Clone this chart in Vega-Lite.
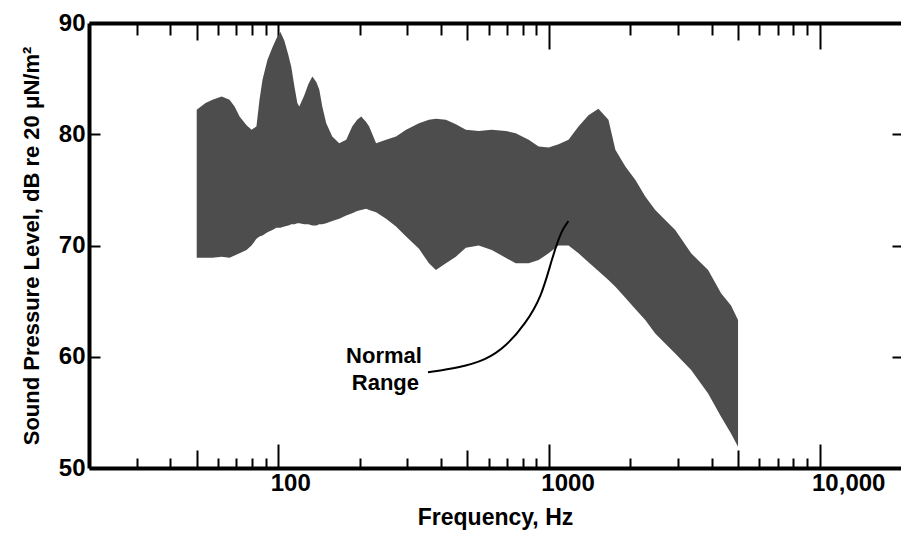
{
  "$schema": "https://vega.github.io/schema/vega-lite/v6.json",
  "width": 812,
  "height": 445,
  "autosize": {"type": "none"},
  "padding": {"left": 89, "top": 23, "right": 0, "bottom": 70},
  "background": "white",
  "config": {
    "view": {"stroke": null},
    "font": "Liberation Sans",
    "axis": {"grid": false, "labelColor": "black", "titleColor": "black", "domainColor": "black", "tickColor": "black"}
  },
  "datasets": {
    "band": [
      {"freq": 50, "upper": 82.2, "lower": 68.9},
      {"freq": 53.9, "upper": 82.8, "lower": 68.9},
      {"freq": 57.2, "upper": 83.1, "lower": 68.9},
      {"freq": 61.8, "upper": 83.4, "lower": 69.0},
      {"freq": 66.1, "upper": 83.1, "lower": 68.9},
      {"freq": 69.0, "upper": 82.5, "lower": 69.1},
      {"freq": 72.0, "upper": 81.6, "lower": 69.3},
      {"freq": 76.4, "upper": 80.8, "lower": 69.6},
      {"freq": 79.7, "upper": 80.4, "lower": 70.0},
      {"freq": 83.1, "upper": 80.7, "lower": 70.6},
      {"freq": 85.3, "upper": 83.1, "lower": 70.8},
      {"freq": 87.5, "upper": 84.9, "lower": 70.9},
      {"freq": 91.3, "upper": 86.7, "lower": 71.2},
      {"freq": 95.2, "upper": 87.8, "lower": 71.4},
      {"freq": 98.5, "upper": 88.6, "lower": 71.6},
      {"freq": 101.9, "upper": 89.2, "lower": 71.6},
      {"freq": 105.4, "upper": 88.4, "lower": 71.7},
      {"freq": 109.1, "upper": 87.1, "lower": 71.8},
      {"freq": 111.9, "upper": 86.0, "lower": 71.9},
      {"freq": 114.8, "upper": 84.3, "lower": 71.9},
      {"freq": 117.7, "upper": 82.8, "lower": 72.0},
      {"freq": 119.7, "upper": 82.5, "lower": 72.0},
      {"freq": 124.9, "upper": 83.5, "lower": 71.9},
      {"freq": 129.2, "upper": 84.5, "lower": 71.9},
      {"freq": 133.7, "upper": 85.2, "lower": 71.8},
      {"freq": 138.3, "upper": 84.7, "lower": 71.8},
      {"freq": 141.9, "upper": 84.0, "lower": 71.9},
      {"freq": 145.5, "upper": 82.5, "lower": 71.9},
      {"freq": 150.5, "upper": 81.0, "lower": 72.0},
      {"freq": 158.4, "upper": 79.8, "lower": 72.2},
      {"freq": 168.1, "upper": 79.2, "lower": 72.4},
      {"freq": 178.4, "upper": 79.5, "lower": 72.7},
      {"freq": 187.7, "upper": 80.7, "lower": 72.9},
      {"freq": 195.8, "upper": 81.3, "lower": 73.1},
      {"freq": 202.6, "upper": 81.6, "lower": 73.2},
      {"freq": 211.3, "upper": 81.1, "lower": 73.3},
      {"freq": 216.8, "upper": 80.7, "lower": 73.2},
      {"freq": 230.0, "upper": 79.2, "lower": 73.0},
      {"freq": 250.4, "upper": 79.5, "lower": 72.4},
      {"freq": 272.5, "upper": 79.8, "lower": 71.7},
      {"freq": 296.8, "upper": 80.4, "lower": 70.8},
      {"freq": 331.3, "upper": 81.0, "lower": 69.7},
      {"freq": 360.6, "upper": 81.3, "lower": 68.4},
      {"freq": 382.6, "upper": 81.4, "lower": 67.8},
      {"freq": 416.5, "upper": 81.3, "lower": 68.4},
      {"freq": 453.4, "upper": 80.9, "lower": 69.0},
      {"freq": 493.6, "upper": 80.4, "lower": 69.8},
      {"freq": 551.0, "upper": 80.3, "lower": 70.0},
      {"freq": 615.2, "upper": 80.4, "lower": 69.6},
      {"freq": 692.7, "upper": 80.3, "lower": 68.9},
      {"freq": 754.2, "upper": 80.1, "lower": 68.4},
      {"freq": 842.2, "upper": 79.5, "lower": 68.4},
      {"freq": 916.8, "upper": 78.9, "lower": 68.7},
      {"freq": 997.8, "upper": 78.8, "lower": 69.3},
      {"freq": 1086, "upper": 79.1, "lower": 70.0},
      {"freq": 1182, "upper": 79.5, "lower": 70.0},
      {"freq": 1287, "upper": 80.7, "lower": 69.3},
      {"freq": 1401, "upper": 81.7, "lower": 68.5},
      {"freq": 1524, "upper": 82.3, "lower": 67.7},
      {"freq": 1660, "upper": 81.3, "lower": 66.9},
      {"freq": 1761, "upper": 78.6, "lower": 66.3},
      {"freq": 1917, "upper": 77.1, "lower": 65.3},
      {"freq": 2086, "upper": 75.9, "lower": 64.3},
      {"freq": 2271, "upper": 74.4, "lower": 63.3},
      {"freq": 2472, "upper": 73.2, "lower": 62.1},
      {"freq": 2691, "upper": 72.3, "lower": 61.2},
      {"freq": 2930, "upper": 71.4, "lower": 60.3},
      {"freq": 3355, "upper": 69.3, "lower": 58.8},
      {"freq": 3876, "upper": 67.8, "lower": 56.7},
      {"freq": 4328, "upper": 65.7, "lower": 54.6},
      {"freq": 4710, "upper": 64.6, "lower": 53.1},
      {"freq": 5000, "upper": 63.3, "lower": 51.9}
    ],
    "pointer": [
      {"freq": 357.6, "level": 58.6},
      {"freq": 465, "level": 59.0},
      {"freq": 585, "level": 59.7},
      {"freq": 693, "level": 60.9},
      {"freq": 821, "level": 63.0},
      {"freq": 940, "level": 65.4},
      {"freq": 1023, "level": 68.7},
      {"freq": 1114, "level": 71.4},
      {"freq": 1182, "level": 72.2}
    ],
    "notes": [
      {"freq": 246, "level": 60.1, "text": "Normal"},
      {"freq": 249, "level": 57.6, "text": "Range"}
    ]
  },
  "layer": [
    {
      "data": {"name": "band"},
      "mark": {"type": "area", "color": "#4d4d4d", "interpolate": "linear"},
      "encoding": {
        "x": {
          "field": "freq", "type": "quantitative",
          "scale": {"type": "log", "domain": [20, 20000]},
          "axis": {
            "orient": "bottom",
            "values": [30, 40, 50, 60, 70, 80, 90, 100, 200, 300, 400, 500, 600, 700, 800, 900, 1000, 2000, 3000, 4000, 5000, 6000, 7000, 8000, 9000, 10000],
            "labelExpr": "datum.value == 100 ? '100' : datum.value == 1000 ? '1000' : datum.value == 10000 ? '10,000' : ''",
            "tickSize": {"condition": [
              {"test": "datum.value == 100 || datum.value == 1000 || datum.value == 10000", "value": -24},
              {"test": "datum.value == 50 || datum.value == 500 || datum.value == 5000", "value": -18}
            ], "value": -10},
            "tickWidth": 2,
            "domainWidth": 4,
            "labelPadding": 27,
            "labelAlign": "left",
            "labelOffset": -8,
            "labelBaseline": "top",
            "labelFlush": false,
            "labelOverlap": false,
            "labelFontSize": 24,
            "labelFontWeight": "bold",
            "title": "Frequency, Hz",
            "titleFontSize": 23,
            "titleFontWeight": "bold",
            "titlePadding": -3
          }
        },
        "y": {
          "field": "upper", "type": "quantitative",
          "scale": {"domain": [50, 90]},
          "axis": {
            "orient": "left",
            "values": [50, 60, 70, 80, 90],
            "tickSize": -11,
            "tickWidth": 2,
            "domainWidth": 4,
            "labelPadding": 15,
            "labelFontSize": 24,
            "labelFontWeight": "bold",
            "labelFlush": false,
            "labelOverlap": false,
            "title": "Sound Pressure Level, dB re 20 μN/m²",
            "titleFontSize": 22,
            "titleFontWeight": "bold",
            "titlePadding": 15
          }
        },
        "y2": {"field": "lower"}
      }
    },
    {
      "data": {"name": "pointer"},
      "mark": {"type": "line", "color": "black", "strokeWidth": 2, "interpolate": "basis"},
      "encoding": {
        "x": {
          "field": "freq", "type": "quantitative",
          "scale": {"type": "log", "domain": [20, 20000]},
          "axis": {
            "orient": "top",
            "values": [30, 40, 50, 60, 70, 80, 90, 100, 200, 300, 400, 500, 600, 700, 800, 900, 1000, 2000, 3000, 4000, 5000, 6000, 7000, 8000, 9000, 10000],
            "labels": false,
            "tickSize": {"condition": [
              {"test": "datum.value == 100 || datum.value == 1000 || datum.value == 10000", "value": -26},
              {"test": "datum.value == 50 || datum.value == 500 || datum.value == 5000", "value": -17}
            ], "value": -12},
            "tickWidth": 2,
            "domainWidth": 4,
            "title": null
          }
        },
        "y": {
          "field": "level", "type": "quantitative",
          "scale": {"domain": [50, 90]},
          "axis": {
            "orient": "right",
            "values": [60, 70, 80],
            "labels": false,
            "domain": false,
            "tickSize": -9,
            "tickWidth": 2,
            "title": null
          }
        },
        "order": {"field": "freq", "type": "quantitative"}
      }
    },
    {
      "data": {"name": "notes"},
      "mark": {"type": "text", "font": "Liberation Sans", "fontSize": 22, "fontWeight": "bold", "align": "center", "baseline": "middle", "color": "black"},
      "encoding": {
        "x": {"field": "freq", "type": "quantitative", "scale": {"type": "log", "domain": [20, 20000]}, "axis": null},
        "y": {"field": "level", "type": "quantitative", "scale": {"domain": [50, 90]}, "axis": null},
        "text": {"field": "text"}
      }
    }
  ],
  "resolve": {"axis": {"x": "independent", "y": "independent"}}
}
